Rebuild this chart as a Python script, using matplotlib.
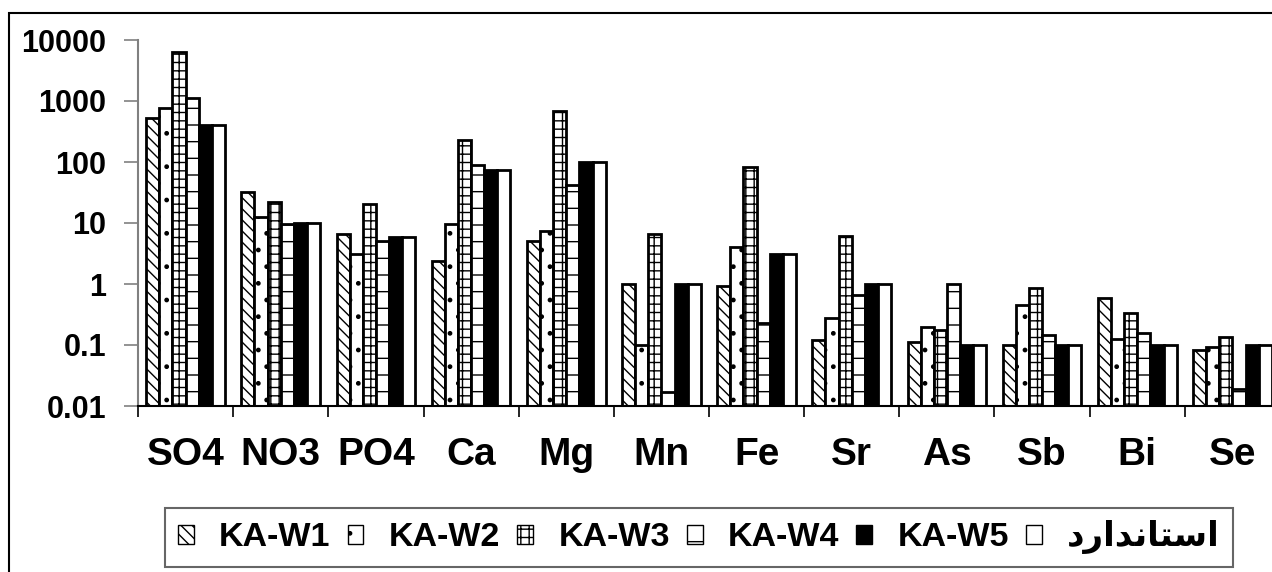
import numpy as np
import matplotlib
matplotlib.use('Agg')
import matplotlib.pyplot as plt
from matplotlib.patches import Rectangle
from matplotlib.ticker import FixedLocator, NullFormatter, FuncFormatter

plt.rcParams['font.family'] = ['Liberation Sans', 'DejaVu Sans']
plt.rcParams['font.weight'] = 'bold'
plt.rcParams['hatch.linewidth'] = 1.0

# datos
categorias = ['SO4', 'NO3', 'PO4', 'Ca', 'Mg', 'Mn', 'Fe', 'Sr', 'As', 'Sb', 'Bi', 'Se']
kaw1 = [520, 32.6, 6.6, 2.4, 5.1, 1.0, 0.93, 0.12, 0.11, 0.10, 0.60, 0.083]
kaw2 = [760, 12.4, 3.1, 9.8, 7.3, 0.10, 4.1, 0.28, 0.197, 0.45, 0.124, 0.092]
kaw3 = [6430, 22.4, 20.5, 230, 686, 6.6, 82, 6.2, 0.178, 0.86, 0.34, 0.137]
kaw4 = [1107, 9.8, 5.0, 89, 42, 0.017, 0.23, 0.65, 1.0, 0.146, 0.16, 0.019]
kaw5 = [400, 10, 6, 75, 100, 1, 3.1, 1, 0.1, 0.1, 0.1, 0.1]
estandar = [400, 10, 6, 75, 100, 1, 3.1, 1, 0.1, 0.1, 0.1, 0.1]
nombres = ['KA-W1', 'KA-W2', 'KA-W3', 'KA-W4', 'KA-W5', 'استاندارد']
yticks = [0.01, 0.1, 1, 10, 100, 1000, 10000]


def arabe(txt):
    # matplotlib no une letras arabes: se usan las formas de presentacion
    # (aislada, final, inicial, media) y se invierte el orden
    formas = {
        'ا': ('\uFE8D', '\uFE8E', None, None),
        'س': ('\uFEB1', '\uFEB2', '\uFEB3', '\uFEB4'),
        'ت': ('\uFE95', '\uFE96', '\uFE97', '\uFE98'),
        'ن': ('\uFEE5', '\uFEE6', '\uFEE7', '\uFEE8'),
        'د': ('\uFEA9', '\uFEAA', None, None),
        'ر': ('\uFEAD', '\uFEAE', None, None),
    }
    out = []
    for i, c in enumerate(txt):
        prev = txt[i-1] if i > 0 else None
        nxt = txt[i+1] if i < len(txt)-1 else None
        une_prev = prev is not None and formas[prev][2] is not None
        une_next = nxt is not None and formas[c][2] is not None
        f = formas[c]
        if une_prev and une_next:
            out.append(f[3])
        elif une_prev:
            out.append(f[1])
        elif une_next:
            out.append(f[2])
        else:
            out.append(f[0])
    return ''.join(out[::-1])


series = [kaw1, kaw2, kaw3, kaw4, kaw5, estandar]
tramas = ['\\\\\\', '.', '++', '-', '', '']
colores = ['white', 'white', 'white', 'white', 'black', 'white']
etiquetas = nombres[:5] + [arabe(nombres[5])]

fig = plt.figure(figsize=(12.72, 5.72), dpi=100)
ax = fig.add_axes([138/1272, 1-406/572, 1142/1272, 366/572])

ymin = 0.01
n = len(categorias)
x = np.arange(n)
w = 0.138
for j, s in enumerate(series):
    pos = x + 0.5 + (j - 2.5)*w
    v = np.array(s)
    ax.bar(pos, v - ymin, bottom=ymin, width=w, color=colores[j], edgecolor='black',
           linewidth=2, hatch=tramas[j], label=etiquetas[j], zorder=2)

ax.set_yscale('log')
ax.set_ylim(ymin, 10000)
ax.set_xlim(0, n)
ax.yaxis.set_major_locator(FixedLocator(yticks))
ax.yaxis.set_minor_locator(FixedLocator([]))
ax.yaxis.set_major_formatter(FuncFormatter(lambda v, p: '%g' % v))
ax.tick_params(axis='y', which='major', length=10, width=1.2, color='#808080',
               labelsize=22, pad=13)

ax.set_xticks(x + 0.5)
ax.set_xticklabels(categorias)
ax.xaxis.set_minor_locator(FixedLocator(np.arange(n+1)))
ax.xaxis.set_minor_formatter(NullFormatter())
ax.tick_params(axis='x', which='major', length=0, labelsize=28, pad=22)
ax.tick_params(axis='x', which='minor', length=8, width=1.2, color='black')

ax.spines['top'].set_visible(False)
ax.spines['right'].set_visible(False)
ax.spines['left'].set_color('#808080')
ax.spines['left'].set_linewidth(1.5)
ax.spines['bottom'].set_color('black')
ax.spines['bottom'].set_linewidth(1.5)

# marco exterior
fig.patches.append(Rectangle((9/1272, -0.1), 1.2, 1.1 - 12.5/572, transform=fig.transFigure,
                             fill=False, edgecolor='black', linewidth=1.5))

leg = fig.legend(loc='center', bbox_to_anchor=(699/1272, 1-537.5/572), ncol=6,
                 fontsize=24.5, frameon=True, fancybox=False, edgecolor='#404040',
                 handlelength=0.46, handleheight=0.46, handletextpad=0.75,
                 columnspacing=0.5, borderpad=0.38)
leg.get_frame().set_linewidth(1.5)
for p in leg.get_patches():
    p.set_linewidth(1.0)

fig.savefig('out.png', dpi=100)
